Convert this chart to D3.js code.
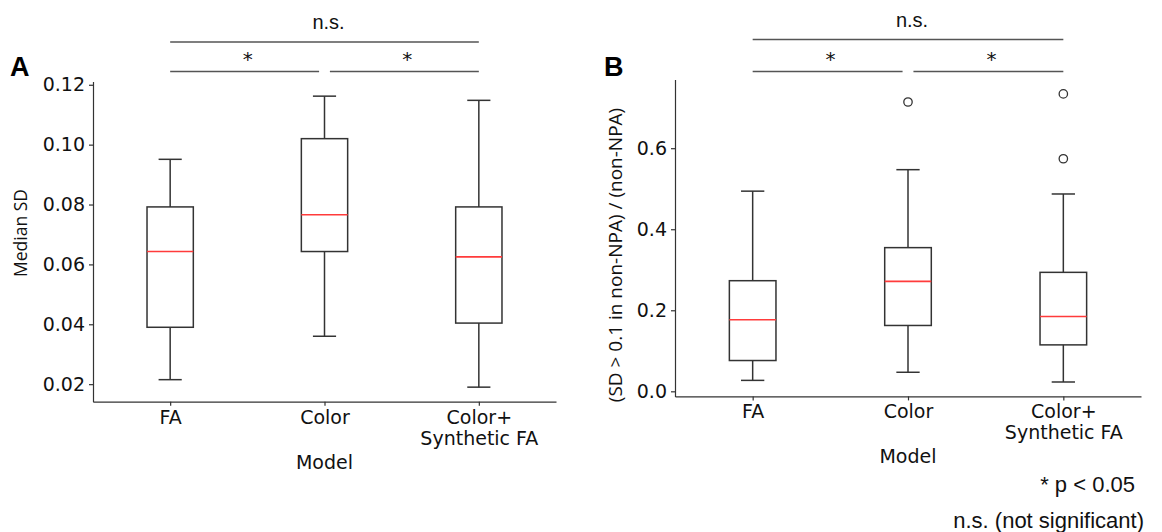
<!DOCTYPE html>
<html>
<head>
<meta charset="utf-8">
<script src="https://cdn.jsdelivr.net/npm/d3@7"></script>
<style>
  body { margin: 0; background: #fff; }
  svg { display: block; }
</style>
</head>
<body>
<div id="chart"></div>
<script>
// categories on the x axis (each entry = lines of the tick label)
var models = [["FA"], ["Color"], ["Color+", "Synthetic FA"]];

// panel A : median SD, [low whisker, Q1, median, Q3, high whisker]
var sdLow = [0.0215, 0.036, 0.019];
var sdQ1 = [0.039, 0.0643, 0.0404];
var sdMed = [0.0643, 0.0766, 0.0625];
var sdQ3 = [0.0792, 0.102, 0.0792];
var sdHigh = [0.0951, 0.1162, 0.1148];
var sdOutliers = [[], [], []];
var sdTicks = [0.02, 0.04, 0.06, 0.08, 0.10, 0.12];

// panel B : (SD > 0.1 in non-NPA) / (non-NPA)
var ratioLow = [0.027, 0.047, 0.023];
var ratioQ1 = [0.076, 0.1625, 0.1146];
var ratioMed = [0.1765, 0.2713, 0.1847];
var ratioQ3 = [0.273, 0.3546, 0.2936];
var ratioHigh = [0.494, 0.547, 0.487];
var ratioOutliers = [[], [0.714], [0.734, 0.574]];
var ratioTicks = [0.0, 0.2, 0.4, 0.6];

// significance brackets (index of groups), same in both panels
var brackets = [
  {from: 0, to: 2, label: "n.s.", level: 1},
  {from: 0, to: 1, label: "*", level: 0},
  {from: 1, to: 2, label: "*", level: 0}
];

var svg = d3.select("#chart")
  .append("svg")
  .attr("width", 1162)
  .attr("height", 532);

svg.append("rect").attr("width", 1162).attr("height", 532).attr("fill", "#fff");

function drawPanel(opt) {
  var stats = opt.low.map(function(d, i) {
    return {i: i + 1, low: opt.low[i], q1: opt.q1[i], med: opt.med[i],
            q3: opt.q3[i], high: opt.high[i], out: opt.out[i]};
  });

  // matplotlib-like 5% margins on the data range
  var all = opt.low.concat(opt.high, d3.merge(opt.out));
  var ext = d3.extent(all);
  var pad = (ext[1] - ext[0]) * 0.05;

  var x = d3.scaleLinear().domain([0.5, 3.5]).range([opt.left, opt.right]);
  var y = d3.scaleLinear().domain([ext[0] - pad, ext[1] + pad]).range([opt.bottom, opt.top]);

  var g = svg.append("g");

  // Y axis
  var yAxis = d3.axisLeft(y).tickValues(opt.ticks).tickFormat(d3.format(opt.fmt))
    .tickSizeInner(4).tickSizeOuter(0).tickPadding(4);
  var ya = g.append("g")
    .attr("transform", "translate(" + opt.left + ",0)")
    .call(yAxis);
  ya.attr("font-size", null).attr("font-family", null);
  ya.selectAll("text").attr("font-family", "DejaVu Sans").attr("font-size", 19).attr("fill", "#111");

  // X axis
  var xAxis = d3.axisBottom(x).tickValues([1, 2, 3]).tickFormat("")
    .tickSizeInner(4).tickSizeOuter(0);
  var xa = g.append("g")
    .attr("transform", "translate(0," + opt.bottom + ")")
    .call(xAxis);
  xa.selectAll(".tick").append("text")
    .attr("font-family", "DejaVu Sans")
    .attr("font-size", 19)
    .attr("fill", "#111")
    .attr("text-anchor", "middle")
    .selectAll("tspan")
    .data(function(d) { return models[d - 1]; })
    .enter().append("tspan")
    .attr("x", 0)
    .attr("y", function(d, i) { return 22 + i * 21; })
    .text(function(d) { return d; });

  g.selectAll(".domain, .tick line").attr("stroke", "#333").attr("stroke-width", 1.2);

  // axis titles
  g.append("text")
    .attr("x", (opt.left + opt.right) / 2)
    .attr("y", opt.bottom + 67)
    .attr("text-anchor", "middle")
    .attr("font-family", "DejaVu Sans")
    .attr("font-size", 19)
    .attr("fill", "#111")
    .text("Model");

  g.append("text")
    .attr("transform", "translate(" + opt.ylabX + "," + opt.ylabY + ") rotate(-90)")
    .attr("text-anchor", "middle")
    .attr("dominant-baseline", "central")
    .attr("font-family", "Open Sans")
    .attr("font-size", opt.ylabSize)
    .attr("fill", "#111")
    .text(opt.ylab);

  // panel letter
  g.append("text")
    .attr("x", opt.letterX)
    .attr("y", 76)
    .attr("font-family", "Liberation Sans")
    .attr("font-weight", "bold")
    .attr("font-size", 27)
    .attr("fill", "#000")
    .text(opt.letter);

  // boxes
  var bw = 0.3, cw = 0.15;
  var box = g.selectAll(".box").data(stats).enter().append("g").attr("class", "box");

  box.append("line")
    .attr("x1", function(d) { return x(d.i); }).attr("x2", function(d) { return x(d.i); })
    .attr("y1", function(d) { return y(d.q3); }).attr("y2", function(d) { return y(d.high); });
  box.append("line")
    .attr("x1", function(d) { return x(d.i); }).attr("x2", function(d) { return x(d.i); })
    .attr("y1", function(d) { return y(d.q1); }).attr("y2", function(d) { return y(d.low); });
  box.append("line")
    .attr("x1", function(d) { return x(d.i - cw / 2); }).attr("x2", function(d) { return x(d.i + cw / 2); })
    .attr("y1", function(d) { return y(d.high); }).attr("y2", function(d) { return y(d.high); });
  box.append("line")
    .attr("x1", function(d) { return x(d.i - cw / 2); }).attr("x2", function(d) { return x(d.i + cw / 2); })
    .attr("y1", function(d) { return y(d.low); }).attr("y2", function(d) { return y(d.low); });
  box.append("rect")
    .attr("x", function(d) { return x(d.i - bw / 2); })
    .attr("width", function(d) { return x(d.i + bw / 2) - x(d.i - bw / 2); })
    .attr("y", function(d) { return y(d.q3); })
    .attr("height", function(d) { return y(d.q1) - y(d.q3); })
    .attr("fill", "none");
  box.selectAll("line, rect").attr("stroke", "#333").attr("stroke-width", 1.5);

  box.append("line")
    .attr("x1", function(d) { return x(d.i - bw / 2); }).attr("x2", function(d) { return x(d.i + bw / 2); })
    .attr("y1", function(d) { return y(d.med); }).attr("y2", function(d) { return y(d.med); })
    .attr("stroke", "#ff3b3b").attr("stroke-width", 1.6);

  box.selectAll("circle")
    .data(function(d) { return d.out.map(function(v) { return {i: d.i, v: v}; }); })
    .enter().append("circle")
    .attr("cx", function(d) { return x(d.i); })
    .attr("cy", function(d) { return y(d.v); })
    .attr("r", 4.2)
    .attr("fill", "none")
    .attr("stroke", "#333")
    .attr("stroke-width", 1.3);

  // significance brackets
  var gap = 0.035;
  brackets.forEach(function(b) {
    var x1 = b.from + 1, x2 = b.to + 1;
    if (b.level === 0) {
      if (b.from === 1) x1 += gap;
      if (b.to === 1) x2 -= gap;
    }
    var ly = b.level === 1 ? opt.nsLineY : 71.5;
    g.append("line")
      .attr("x1", x(x1)).attr("x2", x(x2))
      .attr("y1", ly).attr("y2", ly)
      .attr("stroke", "#555").attr("stroke-width", 1.3);
    g.append("text")
      .attr("x", (x(x1) + x(x2)) / 2 + (b.level === 1 ? 4 : 3))
      .attr("y", b.level === 1 ? ly - 13 : ly - 6)
      .attr("text-anchor", "middle")
      .attr("font-family", b.level === 1 ? "Liberation Sans" : "DejaVu Sans")
      .attr("font-size", 20)
      .attr("fill", "#111")
      .text(b.label);
  });
}

drawPanel({
  left: 93, right: 556, top: 81.6, bottom: 401.7,
  low: sdLow, q1: sdQ1, med: sdMed, q3: sdQ3, high: sdHigh, out: sdOutliers,
  ticks: sdTicks, fmt: ".2f",
  ylab: "Median SD", ylabX: 20, ylabY: 233, ylabSize: 17.5,
  letter: "A", letterX: 10, nsLineY: 42
});

drawPanel({
  left: 675, right: 1141, top: 79.5, bottom: 396.4,
  low: ratioLow, q1: ratioQ1, med: ratioMed, q3: ratioQ3, high: ratioHigh, out: ratioOutliers,
  ticks: ratioTicks, fmt: ".1f",
  ylab: "(SD > 0.1 in non-NPA) / (non-NPA)", ylabX: 615, ylabY: 255, ylabSize: 19,
  letter: "B", letterX: 604, nsLineY: 39.5
});

// footnotes
svg.append("text")
  .attr("x", 1135).attr("y", 491.5)
  .attr("text-anchor", "end")
  .attr("font-family", "Liberation Sans")
  .attr("font-size", 22)
  .attr("fill", "#111")
  .text("* p < 0.05");

svg.append("text")
  .attr("x", 1144).attr("y", 528)
  .attr("text-anchor", "end")
  .attr("font-family", "Liberation Sans")
  .attr("font-size", 22)
  .attr("fill", "#111")
  .text("n.s. (not significant)");
</script>
</body>
</html>
